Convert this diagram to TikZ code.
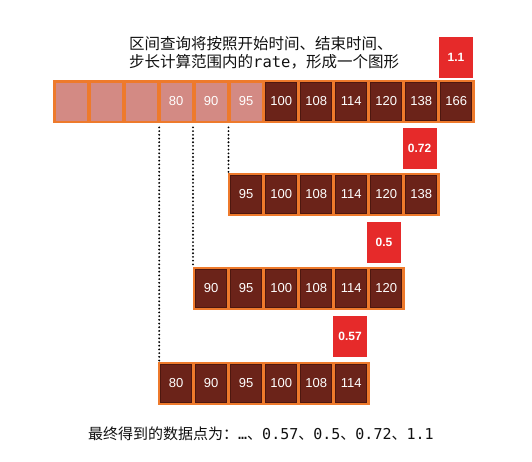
\documentclass[tikz,border=0pt]{standalone}
\usepackage{fontspec}
\setmainfont{Liberation Sans}
\setmonofont{DejaVu Sans Mono}
\newfontfamily\cjk{Noto Sans CJK SC}
\definecolor{orangeB}{HTML}{EE7A2C}
\definecolor{pinkC}{HTML}{D38A84}
\definecolor{darkC}{HTML}{6B2319}
\definecolor{darkE}{HTML}{4E170F}
\definecolor{redC}{HTML}{E62A2A}
\definecolor{titleC}{HTML}{111111}
\tikzset{
  rowbox/.style={fill=orangeB, draw=none, minimum height=43pt, inner sep=0pt, anchor=north west},
  cellbase/.style={minimum width=31pt, minimum height=38pt, inner sep=0pt, text=white,
    font=\fontsize{13}{13}\selectfont},
  lightcell/.style={cellbase, fill=pinkC},
  darkcell/.style={cellbase, fill=darkC, draw=darkE, line width=0.6pt},
  ratebox/.style={fill=redC, minimum width=34pt, minimum height=41pt, inner sep=0pt,
    text=white, font=\bfseries\fontsize{12}{12}\selectfont},
  dotline/.style={line width=2.1pt, dash pattern=on 0pt off 3.7pt, line cap=round, black},
  titletext/.style={anchor=base west, inner sep=0pt, text=titleC, font=\cjk\fontsize{15.5}{15.5}\selectfont},
}
\begin{document}
\begin{tikzpicture}[x=1pt,y=-1pt]
\useasboundingbox (0,0) rectangle (532,461);
% title
\node[titletext] (title1) at (129,49) {区间查询将按照开始时间、结束时间、};
\node[titletext] (title2) at (129,67) {步长计算范围内的{\ttfamily rate}，形成一个图形};
% top row
\node[rowbox, minimum width=422pt] (top) at (52.7,80) {};
\foreach \v [count=\i] in {{},{},{},80,90,95}
  \node[lightcell] (t\i) at ({52.7+18.5+35*(\i-1)},101.5) {\v};
\foreach \v [count=\i from 7] in {100,108,114,120,138,166}
  \node[darkcell] (t\i) at ({52.7+18.5+35*(\i-1)},101.5) {\v};
% row 2
\node[rowbox, minimum width=212pt] (r2) at (227.7,173) {};
\foreach \v [count=\i] in {95,100,108,114,120,138}
  \node[darkcell] (b\i) at ({227.7+18.5+35*(\i-1)},194.5) {\v};
% row 3
\node[rowbox, minimum width=212pt] (r3) at (192.7,267) {};
\foreach \v [count=\i] in {90,95,100,108,114,120}
  \node[darkcell] (c\i) at ({192.7+18.5+35*(\i-1)},288.5) {\v};
% row 4
\node[rowbox, minimum width=212pt] (r4) at (157.7,362) {};
\foreach \v [count=\i] in {80,90,95,100,108,114}
  \node[darkcell] (d\i) at ({157.7+18.5+35*(\i-1)},383.5) {\v};
% rate boxes
\node[ratebox] (v1) at (456,57.5) {1.1};
\node[ratebox] (v2) at (419.5,148.5) {0.72};
\node[ratebox] (v3) at (384,242.5) {0.5};
\node[ratebox] (v4) at (350,336) {0.57};
% dotted guides
\draw[dotline] ([xshift=1.5pt,yshift=-4pt]r4.north west |- top.south) -- ([xshift=1.5pt]r4.north west);
\draw[dotline] ([xshift=0.3pt,yshift=-4pt]r3.north west |- top.south) -- ([xshift=0.3pt]r3.north west);
\draw[dotline] ([xshift=0.8pt,yshift=-4pt]r2.north west |- top.south) -- ([xshift=0.8pt]r2.north west);
% result text
\node[anchor=base west, inner sep=0pt, text=titleC, font=\cjk\fontsize{15}{15}\selectfont] (result) at (88,439)
  {最终得到的数据点为：{\ttfamily …}、{\ttfamily 0.57}、{\ttfamily 0.5}、{\ttfamily 0.72}、{\ttfamily 1.1}};
\end{tikzpicture}
\end{document}
